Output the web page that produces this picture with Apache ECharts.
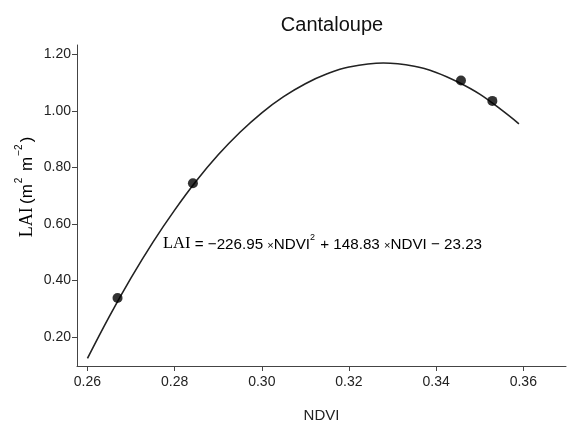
<!DOCTYPE html>
<html>
<head>
<meta charset="utf-8">
<script src="https://cdn.jsdelivr.net/npm/echarts@6/dist/echarts.min.js"></script>
<style>html,body{margin:0;padding:0;background:#fff}#c{width:568px;height:428px}</style>
</head>
<body>
<div id="c"></div>
<script>
// Measured points (NDVI, LAI)
const pointNDVI = [0.2669, 0.2842, 0.3457, 0.3529];
const pointLAI = [0.338, 0.744, 1.108, 1.036];
// Fitted curve
const curveNDVI = [0.260, 0.265, 0.270, 0.275, 0.280, 0.285, 0.290, 0.295, 0.300, 0.305, 0.310, 0.315, 0.320, 0.3279, 0.335, 0.340, 0.345, 0.350, 0.355, 0.359];
const curveLAI = [0.124, 0.272, 0.409, 0.535, 0.649, 0.753, 0.845, 0.925, 0.994, 1.051, 1.097, 1.132, 1.156, 1.170, 1.159, 1.137, 1.103, 1.060, 1.004, 0.955];
const xTicks = [0.26, 0.28, 0.30, 0.32, 0.34, 0.36];
const yTicks = [0.20, 0.40, 0.60, 0.80, 1.00, 1.20];
const titleText = 'Cantaloupe';
const xName = 'NDVI';

const chart = echarts.init(document.getElementById('c'), null, {renderer: 'canvas'});
const axisColor = '#444';
const labelColor = '#222';
const sans = 'Liberation Sans, Arial, sans-serif';
const serif = 'Liberation Serif, Times New Roman, serif';

chart.setOption({
  animation: false,
  backgroundColor: '#fff',
  title: {
    text: titleText, left: 327, top: 10, textAlign: 'center',
    textStyle: {fontFamily: sans, fontSize: 20, fontWeight: 'normal', color: '#111'}
  },
  grid: {left: 77, right: 2, top: 45, bottom: 52, containLabel: false},
  xAxis: {
    type: 'value', min: 0.2576, max: 0.3698,
    name: xName, nameLocation: 'middle', nameGap: 42,
    nameTextStyle: {fontFamily: sans, fontSize: 15, color: labelColor},
    axisLine: {show: true, lineStyle: {color: axisColor, width: 1}},
    axisTick: {show: true, length: 5, lineStyle: {color: axisColor}, customValues: xTicks},
    axisLabel: {customValues: xTicks, formatter: v => v.toFixed(2), fontFamily: sans, fontSize: 14, color: labelColor, margin: 9},
    splitLine: {show: false}
  },
  yAxis: {
    type: 'value', min: 0.097, max: 1.234,
    axisLine: {show: true, lineStyle: {color: axisColor, width: 1}},
    axisTick: {show: true, length: 5, lineStyle: {color: axisColor}, customValues: yTicks},
    axisLabel: {customValues: yTicks, formatter: v => v.toFixed(2), fontFamily: sans, fontSize: 14, color: labelColor, margin: 6},
    splitLine: {show: false}
  },
  series: [
    {
      type: 'line', data: curveNDVI.map((x, i) => [x, curveLAI[i]]),
      smooth: 0.4, showSymbol: false, symbol: 'none',
      lineStyle: {color: '#222', width: 1.6}, z: 2
    },
    {
      type: 'scatter', data: pointNDVI.map((x, i) => [x, pointLAI[i]]),
      symbol: 'circle', symbolSize: 10, itemStyle: {color: '#000'}, z: 3
    }
  ],
  graphic: [
    {
      type: 'text', x: 25, y: 187, rotation: Math.PI / 2,
      style: {
        text: '{lai|LAI} {t|(m}{s|2}{t| m}{s|−2}{t|)}',
        align: 'center', verticalAlign: 'middle',
        rich: {
          lai: {fontFamily: serif, fontSize: 18, color: '#1f2f66', lineHeight: 22, verticalAlign: 'bottom'},
          t: {fontFamily: sans, fontSize: 17, color: labelColor, lineHeight: 22, verticalAlign: 'bottom'},
          s: {fontFamily: sans, fontSize: 10, color: labelColor, lineHeight: 22, verticalAlign: 'top', padding: [0, 2, 0, 1]}
        }
      }
    },
    {
      type: 'text', x: 163, y: 243,
      style: {
        text: '{lai|LAI}{t| = −226.95 }{x|×}{t|NDVI}{s|2}{t| + 148.83 }{x|×}{t|NDVI − 23.23}',
        align: 'left', verticalAlign: 'middle',
        rich: {
          lai: {fontFamily: serif, fontSize: 16.5, color: '#1f2f66', lineHeight: 19, verticalAlign: 'bottom'},
          t: {fontFamily: sans, fontSize: 15.2, color: labelColor, lineHeight: 19, verticalAlign: 'bottom'},
          x: {fontFamily: sans, fontSize: 11, color: labelColor, lineHeight: 19, verticalAlign: 'bottom', padding: [0, 0, 1, 0]},
          s: {fontFamily: sans, fontSize: 9, color: labelColor, lineHeight: 19, verticalAlign: 'top', padding: [0, 1, 0, 0]}
        }
      }
    }
  ]
});
</script>
</body>
</html>
